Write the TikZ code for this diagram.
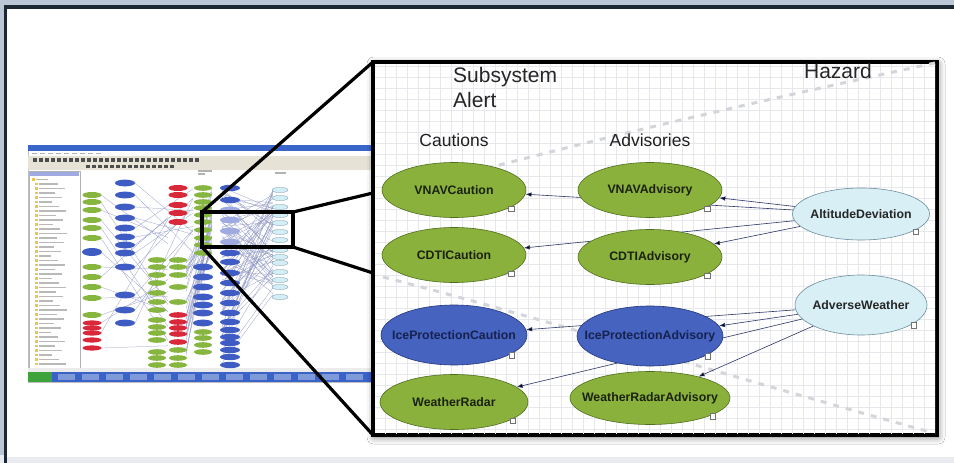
\documentclass[tikz,border=0pt]{standalone}
\usepackage{fontspec}
\setmainfont{Liberation Sans}
\usetikzlibrary{shapes.geometric,arrows,arrows.meta,positioning,backgrounds,shadows.blur}
\definecolor{framebg}{HTML}{BAC6D6}
\definecolor{framedark}{HTML}{1C2733}
\definecolor{greenfill}{HTML}{8BB13D}
\definecolor{greenline}{HTML}{4F6E1C}
\definecolor{greentext}{HTML}{1A220E}
\definecolor{bluefill}{HTML}{4563BF}
\definecolor{blueline}{HTML}{24367A}
\definecolor{bluetext}{HTML}{16224F}
\definecolor{hazardfill}{HTML}{D8EFF6}
\definecolor{hazardline}{HTML}{6F8E9C}
\definecolor{edgeblue}{HTML}{2C3567}
\definecolor{gridgray}{HTML}{E6E8EE}
\definecolor{dashgray}{HTML}{D3D5DA}
\definecolor{titleblue}{HTML}{3B66C9}
\definecolor{toolgray}{HTML}{E6E2D6}
\definecolor{taskblue}{HTML}{3A63C8}
\definecolor{startgreen}{HTML}{3FA33C}
\definecolor{folderyellow}{HTML}{E8C94A}
\definecolor{thgreen}{HTML}{86B540}
\definecolor{thblue}{HTML}{3F5CC4}
\definecolor{thred}{HTML}{D8283A}
\definecolor{thpale}{HTML}{9FAAE0}
\definecolor{thlight}{HTML}{D3EEF6}
\definecolor{thlinecol}{HTML}{8F97C4}
\definecolor{bottomband}{HTML}{E9EBF1}
\pgfdeclarelayer{frame}
\pgfdeclarelayer{edgelayer}
\pgfsetlayers{frame,edgelayer,main}
\tikzset
{
    alert/.style      = {ellipse, line width=0.6, minimum width=144, minimum height=55, inner xsep=-40pt, inner ysep=0pt, font=\bfseries\fontsize{12.3}{13}\selectfont},
    alertgreen/.style = {alert, draw=greenline, fill=greenfill, text=greentext},
    alertblue/.style  = {alert, draw=blueline, fill=bluefill, text=bluetext, minimum width=146, minimum height=60},
    hazard/.style     = {alert, draw=hazardline, fill=hazardfill, text=black!85, minimum width=137, minimum height=52},
    tagbox/.style     = {draw=black!55, fill=white, line width=0.4, minimum size=5.5, inner sep=0pt},
    colhead/.style    = {font=\fontsize{17.5}{20}\selectfont, text=black!88, inner sep=0pt},
    bighead/.style    = {font=\fontsize{21}{25}\selectfont, text=black!85, inner sep=0pt},
    link/.style       = {-{Latex[length=6pt,width=4.5pt]}, draw=edgeblue, line width=0.6},
    zoomline/.style   = {draw=black, line width=3.2, line join=miter},
    panelbox/.style   = {draw=black, line width=3.5, fill=white, minimum width=564, minimum height=373, inner sep=0pt,
                         blur shadow={shadow xshift=1pt, shadow yshift=-2pt, shadow blur radius=7pt, shadow opacity=55}},
    thline/.style     = {draw=thlinecol, line width=0.25},
    shadowdash/.style = {draw=dashgray, line width=3, dash pattern=on 6pt off 7pt}
}

\begin{document}
\begin{tikzpicture}[x=1pt, y=-1pt]
   \useasboundingbox (0,0) rectangle (954,463);
   \newcommand\COLDX{196}

   % zoomed panel: alerts and hazards
   \node (vnavc)   [alertgreen] at (454,190)                          {VNAVCaution};
   \node (vnava)   [alertgreen] at ([shift=({\COLDX,0})]vnavc)        {VNAVAdvisory};
   \node (cdtic)   [alertgreen] at (454,255)                          {CDTICaution};
   \node (cdtia)   [alertgreen] at ([shift=({\COLDX,2})]cdtic)        {CDTIAdvisory};
   \node (icec)    [alertblue]  at (454,335)                          {IceProtectionCaution};
   \node (icea)    [alertblue]  at ([shift=({\COLDX,1})]icec)         {IceProtectionAdvisory};
   \node (wxrc)    [alertgreen, minimum width=148] at (454,402)       {WeatherRadar};
   \node (wxra)    [alertgreen, minimum width=160, minimum height=53] at ([shift=({\COLDX,-4})]wxrc) {WeatherRadarAdvisory};
   \node (altdev)  [hazard]     at (861,214)                          {AltitudeDeviation};
   \node (adverse) [hazard, minimum width=132, minimum height=60] at (861,305) {AdverseWeather};

   \foreach \n in {vnavc,vnava,cdtic,cdtia,icec,icea,wxrc,wxra,altdev,adverse}
      \node (\n-tag) [tagbox] at ([shift=({6,-1})]\n.south east) {};

   \node (subsys)     [bighead, anchor=north west, align=left] at (453,67) {Subsystem\\Alert};
   \node (hazardhead) [bighead, anchor=base] at (838,78)  {Hazard};
   \node (cautions)   [colhead, anchor=base] at (454,146) {Cautions};
   \node (advisories) [colhead, anchor=base] at (650,146) {Advisories};

   \begin{pgfonlayer}{frame}
      % outer frame
      \fill[framebg] (0,0) rectangle (954,463);
      \fill[bottomband] (0,455) rectangle (954,463);
      \fill[white] (6,8) rectangle (954,457);
      \draw[framedark, line width=3.5] (5.5,463) -- (5.5,7) -- (954,7);

      % screenshot thumbnail
      \fill[white] (28,145) rectangle (372,382);
      \draw[gray!50, line width=0.4] (28,145) rectangle (372,382);
      \fill[titleblue] (28,145) rectangle (372,151);
      \foreach \x in {32,40,...,96} \fill[gray!60] (\x,152.5) rectangle ++(5,1.5);
      \fill[toolgray] (28,156) rectangle (372,170);
      \foreach \x in {33,39,...,200} \fill[gray!60!black] (\x,158) rectangle ++(3.5,3.5);
      \foreach \x in {86,92,...,170} \fill[gray!60!black] (\x,164.5) rectangle ++(3.5,3.5);
      \draw[gray!60, line width=0.4, fill=white] (29,171) rectangle (80,370);
      \fill[thpale] (30,172) rectangle (79,176);
      \foreach \i in {0,...,41} {
         \pgfmathsetmacro\ty{178+\i*4.5}
         \pgfmathsetmacro\tx{\i<1 ? 32 : 35}
         \pgfmathsetmacro\tl{12+mod(\i*7,17)}
         \fill[folderyellow] (\tx,\ty) rectangle ++(2.8,2.5);
         \fill[gray!55] (\tx+4,\ty+0.6) rectangle ++(\tl,1.4);
      }
      \fill[gray!15] (28,368) rectangle (372,372);
      \fill[taskblue] (28,372) rectangle (372,382);
      \fill[startgreen] (28,372) rectangle (52,382);
      \foreach \x in {58,82,...,360} \fill[taskblue!65!white] (\x,374) rectangle ++(17,6);
      \fill[gray!60] (198,170) rectangle ++(14,1.5);
      \fill[gray!60] (198,173) rectangle ++(7,1.5);
      \fill[gray!60] (275,172) rectangle ++(11,1.5);

      \pgfmathsetseed{11}
      \foreach \y in {183,195,207,218,228,237,245,253,267,295,310,323} {
         \pgfmathsetmacro\yb{186+rnd*70}
         \draw[thline] (135,\y) -- (193,\yb);
      }
      \foreach \y in {195,202,210,220,228,238,252,267,277,287,298,315,323,333,348} {
         \pgfmathsetmacro\yb{186+rnd*170}
         \draw[thline] (101,\y) -- (168,\yb);
      }
      \foreach \i in {1,...,70} {
         \pgfmathsetmacro\ya{186+rnd*180}
         \pgfmathsetmacro\yb{190+rnd*107}
         \draw[thline] (222,\ya) -- (273,\yb);
      }
      \foreach \i in {1,...,30} {
         \pgfmathsetmacro\ya{258+rnd*100}
         \pgfmathsetmacro\yb{186+rnd*70}
         \draw[thline] (186,\ya) -- (212,\yb);
      }

      \foreach \y in {195,202,210,220,228,238,267,277,287,298,315} \fill[thgreen] (92,\y) ellipse (9.5 and 3);
      \fill[thblue] (92,252) ellipse (10 and 4);
      \foreach \y in {323,328,333,340,348} \fill[thred] (92,\y) ellipse (9.5 and 2.6);
      \foreach \y in {183,195,207,218,228,237,245,253,267,295,310,323} \fill[thblue] (125,\y) ellipse (10 and 3.4);
      \foreach \y in {188,195,205,213,222} \fill[thred] (178,\y) ellipse (9.5 and 3);
      \foreach \y in {260,267,275,283,293,302,310,320,327,333,340,352,358,365} \fill[thgreen] (157,\y) ellipse (9 and 2.8);
      \foreach \y in {260,267,275,287,302,350,358,365} \fill[thgreen] (178,\y) ellipse (9 and 2.8);
      \foreach \y in {315,322,328,334,342} \fill[thred] (178,\y) ellipse (9 and 2.8);
      \foreach \y in {188,195,202,208,215,222,230,238,245,253,332,338,345,352} \fill[thgreen] (203,\y) ellipse (9 and 2.8);
      \foreach \y in {267,277,287,297,305,313,323} \fill[thblue] (203,\y) ellipse (10 and 3.4);
      \foreach \y in {188,200,253,262,273,283,293,303,313,322,330,337,343,350,357,365} \fill[thblue] (230,\y) ellipse (10 and 3.2);
      \foreach \y in {210,220,231,242} \fill[thpale] (230,\y) ellipse (10 and 3.4);
      \foreach \y in {190,198,207,215,223,232,240,250,257,263,272,280,287,297} \draw[hazardline, line width=0.3, fill=thlight] (280,\y) ellipse (8 and 2.6);

      % zoom lens onto the panel
      \coordinate (zrtl) at (202,212);
      \coordinate (zrtr) at (293,212);
      \coordinate (zrbr) at (293,247);
      \coordinate (zrbl) at (202,247);
      \coordinate (pin1) at (373,62);
      \coordinate (pin2) at (373,193);
      \coordinate (pin3) at (373,273);
      \coordinate (pin4) at (373,435);
      \draw[zoomline] (zrtl) -- (pin1);
      \draw[zoomline] (zrtr) -- (pin2);
      \draw[zoomline] (zrbr) -- (pin3);
      \draw[zoomline] (zrbl) -- (pin4);
      \draw[zoomline] (zrtl) rectangle (zrbr);

      \node (panel) [panelbox] at (655,248.5) {};
      \begin{scope}
         \clip (375,64) rectangle (935,433);
         \draw[gridgray, line width=0.35] (373,435) grid[step=11pt] (937,62);
      \end{scope}
      \draw[shadowdash] (935,63) .. controls (800,92) and (640,128) .. (488,168);
      \draw[shadowdash] (383,277) .. controls (520,312) and (700,368) .. (930,432);
   \end{pgfonlayer}

   \begin{pgfonlayer}{edgelayer}
      \path[link]
         (altdev)  edge (vnava)
         (altdev)  edge (vnavc)
         (altdev)  edge (cdtia)
         (altdev)  edge (cdtic)
         (adverse) edge (icea)
         (adverse) edge (icec)
         (adverse) edge (wxra)
         (adverse) edge (wxrc);
   \end{pgfonlayer}
\end{tikzpicture}
\end{document}
